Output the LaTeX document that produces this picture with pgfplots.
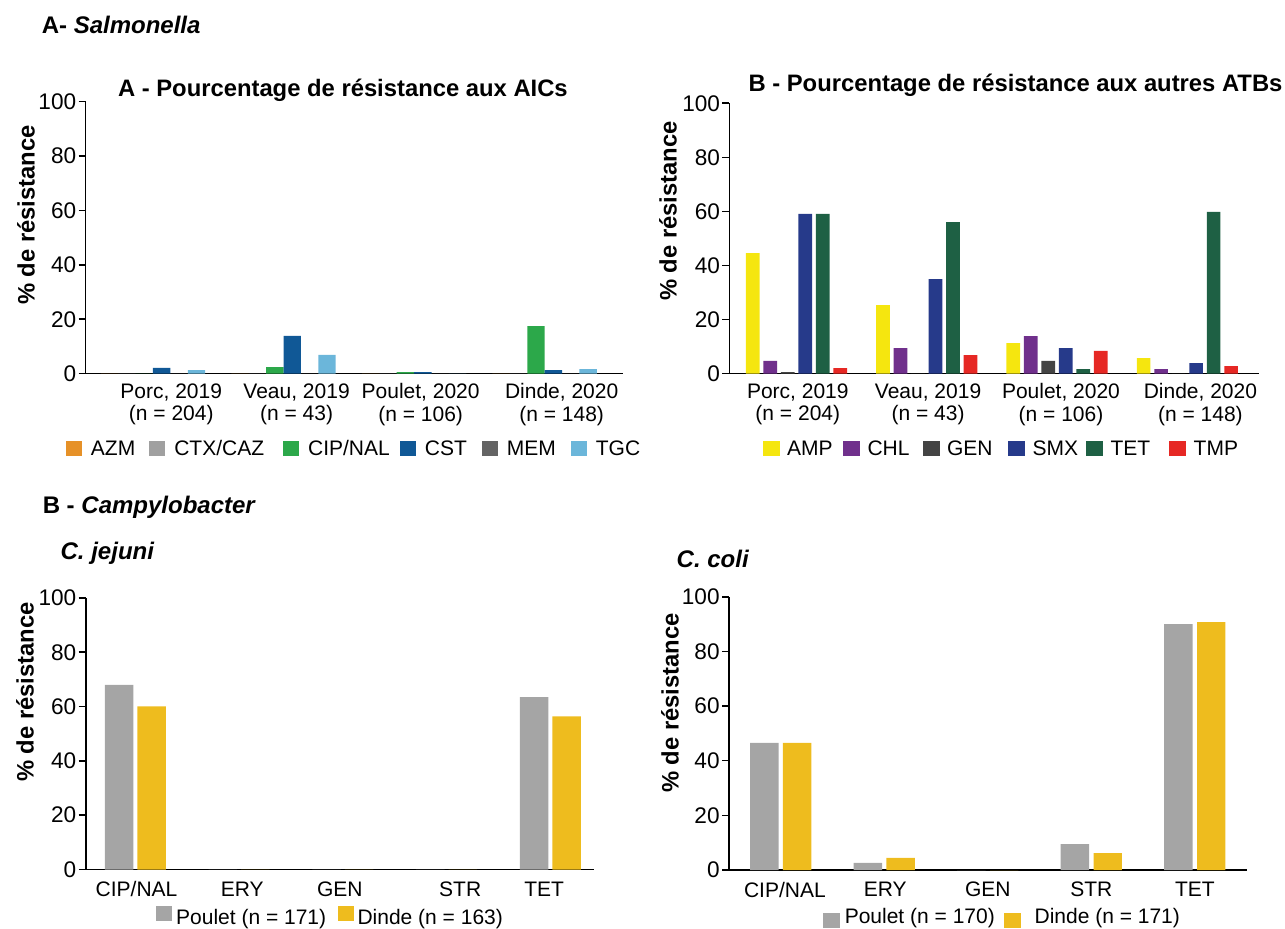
\documentclass[border=0pt]{standalone}
\usepackage{pgfplots}
\pgfplotsset{compat=1.18}
\usepackage{fontspec}
\setmainfont{Liberation Sans}

\definecolor{cAZM}{RGB}{230,145,40}
\definecolor{cCTX}{RGB}{160,160,160}
\definecolor{cCIP}{RGB}{44,168,74}
\definecolor{cCST}{RGB}{16,88,150}
\definecolor{cMEM}{RGB}{100,100,100}
\definecolor{cTGC}{RGB}{107,182,218}
\definecolor{cAMP}{RGB}{245,230,15}
\definecolor{cCHL}{RGB}{112,48,140}
\definecolor{cGEN}{RGB}{68,68,68}
\definecolor{cSMX}{RGB}{38,58,138}
\definecolor{cTET}{RGB}{30,96,68}
\definecolor{cTMP}{RGB}{230,40,36}
\definecolor{cPoulet}{RGB}{165,165,165}
\definecolor{cDinde}{RGB}{238,188,30}

\pgfplotsset{
  base/.style={
    scale only axis,
    axis lines=left,
    axis line style={-, line width=0.8pt, black},
    ymin=0, ymax=100, ytick={0,20,40,60,80,100},
    tick align=outside,
    major tick length=3.5pt,
    y tick style={black, line width=0.8pt},
    major x tick style={draw=none},
    yticklabel style={font=\fontsize{11.3}{13}\selectfont, inner sep=1pt},
    xticklabel style={font=\fontsize{10.5}{11.4}\selectfont, align=center, yshift=2.2pt},
    /pgf/number format/assume math mode=true,
    clip=false,
    legend cell align=left,
    legend style={draw=none, fill=none, font=\fontsize{10.5}{12}\selectfont,
      inner sep=0pt, outer sep=0pt, row sep=0pt, nodes={inner sep=0pt}},
  },
  sq/.style 2 args={legend image code/.code={\fill[##1,draw=none] (#1) rectangle (#2);}},
}

\begin{document}
\begin{tikzpicture}
\useasboundingbox (0pt,0pt) rectangle (642.5pt,-464.5pt);

% headings
\node[anchor=base west, font=\fontsize{12}{14}\selectfont\bfseries] at (17.35pt,-16.65pt) {A- \textit{Salmonella}};
\node[anchor=base west, font=\fontsize{12}{14}\selectfont\bfseries] at (17.85pt,-257pt) {B - \textit{Campylobacter}};
\node[anchor=base west, font=\fontsize{12}{14}\selectfont\bfseries\itshape] at (26.8pt,-280pt) {C. jejuni};
\node[anchor=base west, font=\fontsize{12}{14}\selectfont\bfseries\itshape] at (334.8pt,-284pt) {C. coli};
\node[anchor=base, font=\fontsize{11.9}{14}\selectfont\bfseries] at (171.45pt,-48.35pt) {A - Pourcentage de résistance aux AICs};
\node[anchor=base, font=\fontsize{11.9}{14}\selectfont\bfseries] at (507.75pt,-45.85pt) {B - Pourcentage de résistance aux autres ATBs};
\node[rotate=90, font=\fontsize{11.9}{14}\selectfont\bfseries] at (13pt,-107.5pt) {\% de résistance};
\node[rotate=90, font=\fontsize{11.9}{14}\selectfont\bfseries] at (334pt,-105.5pt) {\% de résistance};
\node[rotate=90, font=\fontsize{11.9}{14}\selectfont\bfseries] at (12.5pt,-346pt) {\% de résistance};
\node[rotate=90, font=\fontsize{11.9}{14}\selectfont\bfseries] at (335pt,-351.5pt) {\% de résistance};

% ---------- Panel A ----------
\begin{axis}[base,
  at={(42.8pt,-186.85pt)}, anchor=south west,
  width=268.7pt, height=136pt,
  xmin=-0.516, xmax=3.60,
  ybar=0pt, bar width=8.7pt,
  sq={0pt,-3pt}{8pt,4.2pt},
  xtick={0.14,1.10,2.05,3.13},
  xticklabels={{Porc, 2019\\(n = 204)},{Veau, 2019\\(n = 43)},{Poulet, 2020\\(n = 106)},{Dinde, 2020\\(n = 148)}},
  legend columns=6,
  legend style={at={(-0.0365,-0.279)}, anchor=west,
    /tikz/every odd column/.append style={column sep=4.5pt},
    /tikz/column 2/.append style={column sep=7pt},
    /tikz/column 4/.append style={column sep=9.5pt},
    /tikz/column 6/.append style={column sep=5pt},
    /tikz/column 8/.append style={column sep=7.5pt},
    /tikz/column 10/.append style={column sep=7.5pt}},
]
\addplot[fill=cAZM, draw=none] coordinates {(0,0) (1,0) (2,0) (3,0)};
\addplot[fill=cCTX, draw=none] coordinates {(0,0) (1,0) (2,0) (3,0)};
\addplot[fill=cCIP, draw=none] coordinates {(0,0) (1,2.4) (2,0.6) (3,17.5)};
\addplot[fill=cCST, draw=none] coordinates {(0,2.1) (1,13.9) (2,0.6) (3,1.3)};
\addplot[fill=cMEM, draw=none] coordinates {(0,0) (1,0) (2,0) (3,0)};
\addplot[fill=cTGC, draw=none] coordinates {(0,1.3) (1,6.9) (2,0) (3,1.7)};
\legend{AZM,CTX/CAZ,CIP/NAL,CST,MEM,TGC}
\end{axis}

% ---------- Panel B ----------
\begin{axis}[base,
  at={(364.7pt,-186.85pt)}, anchor=south west,
  width=264.8pt, height=135.2pt,
  xmin=-0.515, xmax=3.55,
  ybar=1.9pt, bar width=6.85pt,
  sq={0pt,-3pt}{8.5pt,4.6pt},
  xtick={0.01,1.01,2.03,3.10},
  xticklabels={{Porc, 2019\\(n = 204)},{Veau, 2019\\(n = 43)},{Poulet, 2020\\(n = 106)},{Dinde, 2020\\(n = 148)}},
  legend columns=6,
  legend style={at={(0.0625,-0.281)}, anchor=west,
    /tikz/every odd column/.append style={column sep=3.75pt},
    /tikz/column 2/.append style={column sep=5.25pt},
    /tikz/column 4/.append style={column sep=6.5pt},
    /tikz/column 6/.append style={column sep=7.75pt},
    /tikz/column 8/.append style={column sep=4pt},
    /tikz/column 10/.append style={column sep=9.5pt}},
]
\addplot[fill=cAMP, draw=none] coordinates {(0,44.6) (1,25.4) (2,11.3) (3,5.8)};
\addplot[fill=cCHL, draw=none] coordinates {(0,4.7) (1,9.5) (2,13.9) (3,1.7)};
\addplot[fill=cGEN, draw=none] coordinates {(0,0.6) (1,0) (2,4.7) (3,0)};
\addplot[fill=cSMX, draw=none] coordinates {(0,59.1) (1,35.0) (2,9.5) (3,3.9)};
\addplot[fill=cTET, draw=none] coordinates {(0,59.1) (1,56.1) (2,1.7) (3,59.8)};
\addplot[fill=cTMP, draw=none] coordinates {(0,2.1) (1,6.9) (2,8.4) (3,2.8)};
\legend{AMP,CHL,GEN,SMX,TET,TMP}
\end{axis}

% ---------- C. jejuni ----------
\begin{axis}[base,
  at={(42.85pt,-434.75pt)}, anchor=south west,
  width=254.15pt, height=135.75pt,
  xmin=-0.48, xmax=4.42,
  ybar=2pt, bar width=14.25pt,
  sq={0pt,-1.5pt}{8pt,6.3pt},
  xticklabel style={yshift=-1.2pt},
  xtick={0.01,1.03,1.97,3.13,3.94},
  xticklabels={CIP/NAL,ERY,GEN,STR,TET},
  legend columns=2,
  legend style={at={(0.139,-0.173)}, anchor=west,
    /tikz/every odd column/.append style={column sep=1.9pt},
    /tikz/column 2/.append style={column sep=5.8pt}},
]
\addplot[fill=cPoulet, draw=none] coordinates {(0,68.0) (1,0) (2,0) (3,0) (4,63.5)};
\addplot[fill=cDinde, draw=none] coordinates {(0,60.1) (1,0) (2,0) (3,0) (4,56.4)};
\legend{Poulet (n = 171),Dinde (n = 163)}
\end{axis}

% ---------- C. coli ----------
\begin{axis}[base,
  at={(364.5pt,-435pt)}, anchor=south west,
  width=258.8pt, height=136.65pt,
  xmin=-0.5, xmax=4.5,
  ybar=2.2pt, bar width=14.2pt,
  sq={0pt,-5.3pt}{8.5pt,2.2pt},
  xticklabel style={yshift=-1.2pt},
  xtick={0.04,1.01,2,3,4},
  xticklabels={CIP/NAL,ERY,GEN,STR,TET},
  legend columns=2,
  legend style={at={(0.1816,-0.175)}, anchor=west,
    /tikz/column 1/.append style={column sep=2.4pt},
    /tikz/column 2/.append style={column sep=4.7pt},
    /tikz/column 3/.append style={column sep=6.7pt}},
]
\addplot[fill=cPoulet, draw=none] coordinates {(0,46.5) (1,2.6) (2,0) (3,9.5) (4,90.0)};
\addplot[fill=cDinde, draw=none] coordinates {(0,46.5) (1,4.4) (2,0) (3,6.2) (4,90.7)};
\legend{Poulet (n = 170),Dinde (n = 171)}
\end{axis}
\end{tikzpicture}
\end{document}
